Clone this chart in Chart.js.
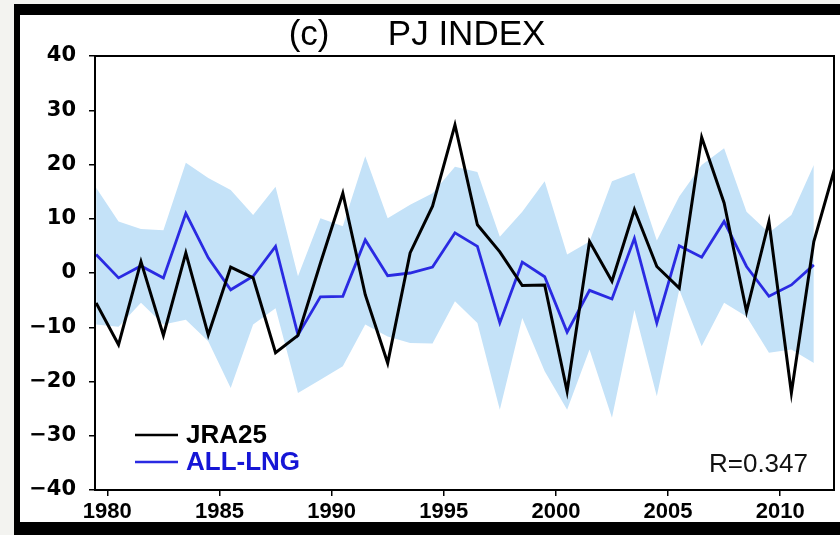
<!DOCTYPE html>
<html>
<head>
<meta charset="utf-8">
<title>PJ INDEX</title>
<script src="https://cdn.jsdelivr.net/npm/chart.js@4.4.1/dist/chart.umd.min.js"></script>
<style>
  html, body { margin: 0; padding: 0; }
  body { width: 840px; height: 535px; overflow: hidden; position: relative; background: #f3f3f0; }
  #frame { position: absolute; left: 14px; top: 4px; width: 900px; height: 540px; background: #000; }
  #paper { position: absolute; left: 20px; top: 15px; width: 830px; height: 507px; background: #fff; }
  #chart { position: absolute; left: 0; top: 0; }
</style>
</head>
<body>
<div id="frame"></div>
<div id="paper"></div>
<canvas id="chart" width="840" height="535"></canvas>
<script>
// Winter-mean PJ index, one value per year (plotted at the middle of each year)
const years = [1979, 1980, 1981, 1982, 1983, 1984, 1985, 1986, 1987, 1988,
               1989, 1990, 1991, 1992, 1993, 1994, 1995, 1996, 1997, 1998,
               1999, 2000, 2001, 2002, 2003, 2004, 2005, 2006, 2007, 2008,
               2009, 2010, 2011, 2012];

// Reanalysis index
const jra25 = [-5.5, -13.2, 2.1, -11.5, 3.7, -11.4, 1.1, -0.9, -14.7, -11.5,
               1.8, 14.7, -4.0, -16.6, 3.7, 12.3, 27.3, 8.9, 3.9, -2.3,
               -2.2, -21.8, 5.8, -1.5, 11.7, 1.2, -2.8, 25.0, 12.9, -7.1,
               9.5, -22.1, 5.8, 20.3];

// Ensemble mean of the model runs (1979-2011)
const allLng = [3.4, -0.9, 1.3, -0.9, 11.0, 2.8, -3.1, -0.6, 4.9, -11.4,
                -4.4, -4.3, 6.1, -0.5, 0.0, 1.1, 7.4, 4.9, -9.2, 2.0,
                -0.7, -10.9, -3.2, -4.8, 6.4, -9.2, 5.0, 2.9, 9.5, 1.2,
                -4.3, -2.2, 1.5];

// Ensemble spread envelope (1979-2011)
const spreadHigh = [15.7, 9.5, 8.1, 7.9, 20.3, 17.5, 15.3, 10.7, 15.9, -0.6,
                    10.1, 8.6, 21.5, 10.1, 12.6, 14.7, 19.6, 18.6, 6.7, 11.3,
                    16.9, 3.4, 5.8, 16.9, 18.5, 6.0, 14.1, 19.9, 23.0, 11.3,
                    7.4, 10.7, 19.9];
const spreadLow = [-9.5, -9.9, -5.5, -9.5, -8.6, -12.6, -21.2, -9.5, -6.5, -22.1,
                   -19.7, -17.2, -9.5, -11.7, -12.9, -13.0, -5.2, -9.2, -25.2, -8.3,
                   -18.1, -25.2, -14.1, -26.7, -6.8, -22.7, -3.1, -13.5, -5.5, -8.0,
                   -14.7, -14.1, -16.6];

const xTickYears = [1980, 1985, 1990, 1995, 2000, 2005, 2010];
const yTickValues = [-40, -30, -20, -10, 0, 10, 20, 30, 40];
const legendSeries = ['JRA25', 'ALL-LNG'];
const correlationText = 'R=0.347';

const FONT = '"Liberation Sans", Arial, Helvetica, sans-serif';
const WIDE_FONT = '"DejaVu Sans", Verdana, sans-serif';
const BLUE = '#2a2ae2';
const SPREAD = 'rgb(196, 226, 248)';

const toPoints = (vals) => vals.map((v, i) => ({ x: years[i] + 0.5, y: v }));

// Box around the plotting area plus legend and correlation note
const decorations = {
  id: 'decorations',
  afterDatasetsDraw(chart) {
    const { ctx, chartArea: a } = chart;
    ctx.save();
    ctx.strokeStyle = '#000';
    ctx.lineWidth = 2;
    ctx.strokeRect(a.left, a.top, a.right - a.left, a.bottom - a.top);

    // legend for the two index curves, in the listed order
    legendSeries.forEach((name, row) => {
      const ds = chart.data.datasets.find(d => d.label === name);
      if (!ds) return;
      const y = a.bottom - 55 + row * 27;
      ctx.strokeStyle = ds.borderColor;
      ctx.lineWidth = 2.6;
      ctx.beginPath();
      ctx.moveTo(a.left + 40, y);
      ctx.lineTo(a.left + 83, y);
      ctx.stroke();
      ctx.fillStyle = ds.legendTextColor || ds.borderColor;
      ctx.font = 'bold 26px ' + FONT;
      ctx.textBaseline = 'middle';
      ctx.textAlign = 'left';
      ctx.fillText(ds.label, a.left + 91, y + 1);
    });

    ctx.fillStyle = '#111';
    ctx.font = '26px ' + FONT;
    ctx.textAlign = 'right';
    ctx.textBaseline = 'middle';
    ctx.fillText(correlationText, a.right - 26, a.bottom - 25);
    ctx.restore();
  }
};

new Chart(document.getElementById('chart'), {
  type: 'line',
  data: {
    datasets: [
      {
        label: 'spread-high',
        data: toPoints(spreadHigh),
        borderWidth: 0,
        pointRadius: 0,
        backgroundColor: SPREAD,
        fill: '+1',
        tension: 0,
        order: 3
      },
      {
        label: 'spread-low',
        data: toPoints(spreadLow),
        borderWidth: 0,
        pointRadius: 0,
        backgroundColor: SPREAD,
        fill: false,
        tension: 0,
        order: 3
      },
      {
        label: 'ALL-LNG',
        data: toPoints(allLng),
        borderColor: BLUE,
        legendTextColor: '#1515d6',
        borderWidth: 2.8,
        pointRadius: 0,
        fill: false,
        tension: 0,
        order: 2
      },
      {
        label: 'JRA25',
        data: toPoints(jra25),
        borderColor: '#000',
        borderWidth: 3,
        pointRadius: 0,
        fill: false,
        tension: 0,
        order: 1
      }
    ]
  },
  options: {
    responsive: false,
    animation: false,
    layout: { padding: { left: 0, right: 6, top: 0, bottom: 0 } },
    plugins: {
      legend: { display: false },
      tooltip: { enabled: false },
      title: {
        display: true,
        text: '(c)      PJ INDEX',
        color: '#000',
        font: { family: FONT, size: 35, weight: 'normal', lineHeight: 1.2 },
        padding: { top: 14, bottom: 0 }
      }
    },
    scales: {
      x: {
        type: 'linear',
        min: 1979.45,
        max: 2012.4,
        afterBuildTicks(scale) { scale.ticks = xTickYears.map(v => ({ value: v })); },
        afterFit(scale) { scale.height = 45; },
        grid: { drawOnChartArea: false, drawTicks: true, tickLength: 6, color: '#000', lineWidth: 1.5 },
        border: { display: true, color: '#000', width: 2 },
        ticks: {
          color: '#000',
          padding: 3,
          maxRotation: 0,
          font: { family: FONT, size: 22, weight: 'bold' },
          callback: (v) => String(v)
        }
      },
      y: {
        min: -40,
        max: 40,
        afterBuildTicks(scale) { scale.ticks = yTickValues.map(v => ({ value: v })); },
        afterFit(scale) { scale.width = 95; },
        grid: { drawOnChartArea: false, drawTicks: true, tickLength: 6, color: '#000', lineWidth: 1.5 },
        border: { display: true, color: '#000', width: 2 },
        ticks: {
          color: '#000',
          padding: 13,
          font: { family: WIDE_FONT, size: 21, weight: 'bold' },
          callback: (v) => (v < 0 ? '\u2212' + Math.abs(v) : String(v))
        }
      }
    }
  },
  plugins: [decorations]
});
</script>
</body>
</html>
